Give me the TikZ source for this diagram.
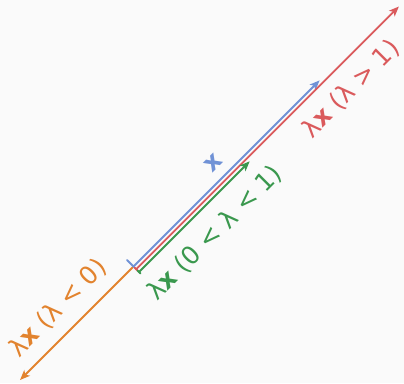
\documentclass[tikz,border=0pt]{standalone}
\usepackage{fontspec}
\setmainfont{DejaVu Sans}
\usetikzlibrary{arrows.meta}
\definecolor{bgc}{RGB}{250,250,250}
\definecolor{cblue}{RGB}{112,146,214}
\definecolor{cred}{RGB}{218,90,92}
\definecolor{cgreen}{RGB}{58,152,78}
\definecolor{corange}{RGB}{226,131,46}
\begin{document}
\begin{tikzpicture}[x=1pt,y=-1pt,
  vec/.style={line width=1.8pt, line cap=round, -{Stealth[length=10pt,width=8pt,inset=2.5pt]}},
  tick/.style={line width=1.8pt, line cap=round},
  lbl/.style={font=\fontsize{25}{27}\selectfont, rotate=45, inner sep=0pt}]
\fill[bgc] (0,0) rectangle (404,383);
\useasboundingbox (0,0) rectangle (404,383);
\coordinate (bO) at (133.5,266.5); \coordinate (bE) at (319.6,80.4);
\coordinate (rO) at (136.2,269.2); \coordinate (rE) at (398.9,6.5);
\coordinate (gO) at (139,272);     \coordinate (gE) at (249.7,161.3);
\coordinate (oO) at (133.5,266.5); \coordinate (oE) at (20,380);
\draw[vec,corange] (oO) -- (oE);
\draw[vec,cblue] (bO) -- (bE);
\draw[tick,cblue] ([shift={(-6.5,-6.5)}]bO) -- ([shift={(1,1)}]bO);
\draw[vec,cred] (rO) -- (rE);
\draw[tick,cred] ([shift={(-1.5,-1.5)}]rO) -- ([shift={(1.5,1.5)}]rO);
\draw[vec,cgreen] (gO) -- (gE);
\draw[tick,cgreen] ([shift={(-1.5,-1.5)}]gO) -- ([shift={(1.5,1.5)}]gO);
\node[lbl,text=cblue] (lb) at (213,163) {\textbf{x}};
\node[lbl,text=cgreen] (lg) at (215,233) {λ\textbf{x} (0 < λ < 1)};
\node[lbl,text=cred] (lr) at (351,89) {λ\textbf{x} (λ > 1)};
\node[lbl,text=corange] (lo) at (58,308) {λ\textbf{x} (λ < 0)};
\end{tikzpicture}
\end{document}
